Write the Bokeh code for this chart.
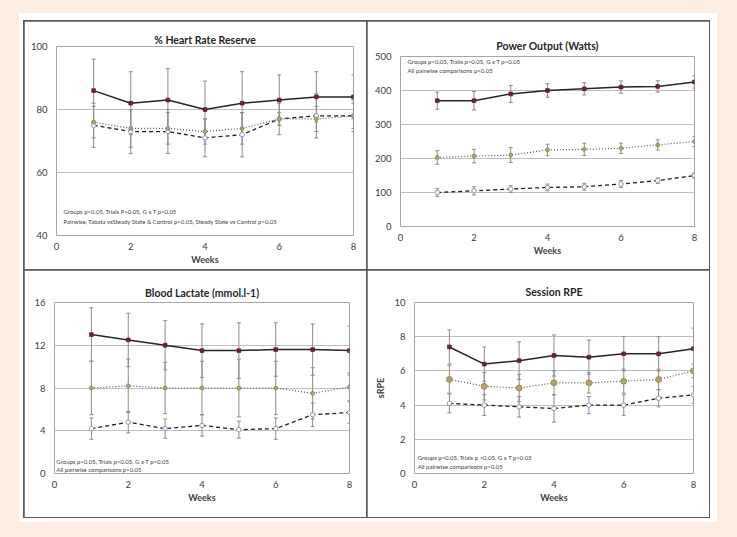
from bokeh.plotting import figure
from bokeh.models import Range1d, FixedTicker, GridBox, Column, Label, ColumnDataSource
from bokeh.embed import file_html
from bokeh.resources import INLINE

weeks = [1, 2, 3, 4, 5, 6, 7, 8]
x_ticks = [0, 2, 4, 6, 8]

# % Heart Rate Reserve
hrr_ticks = [40, 60, 80, 100]
hrr_tabata = [86, 82, 83, 80, 82, 83, 84, 84]
hrr_tabata_sd = [10, 10, 10, 9, 10, 8, 8, 7]
hrr_steady = [76, 74, 74, 73, 74, 77, 77, 78]
hrr_steady_sd = [5, 6, 5, 4, 5, 2, 4, 4]
hrr_control = [75, 73, 73, 71, 72, 77, 78, 78]
hrr_control_sd = [7, 7, 7, 6, 7, 5, 7, 5]
hrr_notes = ["Groups p<0.05, Trials P>0.05, G x T p>0.05",
             "Pairwise, Tabata vsSteady State & Control p<0.05, Steady State vs Control p>0.05"]

# Power Output (Watts)
pow_ticks = [0, 100, 200, 300, 400, 500]
pow_tabata = [370, 370, 390, 400, 405, 410, 412, 425]
pow_tabata_sd = [25, 27, 25, 20, 18, 18, 17, 18]
pow_steady = [203, 207, 210, 225, 227, 230, 240, 250]
pow_steady_sd = [20, 20, 22, 17, 18, 15, 15, 15]
pow_control = [100, 105, 110, 115, 117, 125, 135, 150]
pow_control_sd = [12, 12, 10, 10, 10, 10, 8, 8]
pow_notes = ["Groups p<0.05, Trails p<0.05, G x T p>0.05",
             "All pairwise comparisons p<0.05"]

# Blood Lactate (mmol.l-1)
bl_ticks = [0, 4, 8, 12, 16]
bl_tabata = [13.0, 12.5, 12.0, 11.5, 11.5, 11.6, 11.6, 11.5]
bl_tabata_sd = [2.5, 2.5, 2.3, 2.5, 2.6, 2.5, 2.4, 2.3]
bl_steady = [8.0, 8.2, 8.0, 8.0, 8.0, 8.0, 7.5, 8.1]
bl_steady_sd = [2.5, 2.5, 2.4, 2.5, 2.7, 2.5, 2.4, 1.3]
bl_control = [4.2, 4.8, 4.2, 4.5, 4.1, 4.2, 5.5, 5.7]
bl_control_sd = [1.0, 1.0, 0.9, 1.0, 0.8, 1.0, 1.1, 1.0]
bl_notes = ["Groups p<0.05, Trials p>0.05, G x T p>0.05",
            "All pairwise comparisons p<0.05"]

# Session RPE
rpe_ticks = [0, 2, 4, 6, 8, 10]
rpe_tabata = [7.4, 6.4, 6.6, 6.9, 6.8, 7.0, 7.0, 7.3]
rpe_tabata_sd = [1.0, 1.0, 1.1, 1.2, 1.0, 1.0, 1.0, 1.2]
rpe_steady = [5.5, 5.1, 5.0, 5.3, 5.3, 5.4, 5.5, 6.0]
rpe_steady_sd = [0.8, 0.8, 0.8, 0.7, 0.6, 0.7, 0.6, 0.4]
rpe_control = [4.1, 4.0, 3.9, 3.8, 4.0, 4.0, 4.4, 4.6]
rpe_control_sd = [0.55, 0.6, 0.6, 0.8, 0.5, 0.6, 0.5, 0.5]
rpe_notes = ["Groups p<0.05, Trials p >0.05, G x T p>0.05",
             "All pairwise comparisons p<0.05"]

FONT = "Lato"
ERR = "#8c8c8c"
TXT = "#404040"


def panel(title, w, h, yr, yticks, borders, series, notes, note_pos,
          title_off, title_standoff, ylabel=None, steady_size=4):
    p = figure(width=w, height=h, x_range=Range1d(0, 8), y_range=Range1d(*yr),
               output_backend="svg", toolbar_location=None, title=title,
               min_border_left=borders[0], min_border_right=borders[1],
               min_border_top=borders[2], min_border_bottom=borders[3])
    p.background_fill_color = "white"
    p.border_fill_color = "white"
    p.outline_line_color = "#a6a6a6"
    p.outline_line_width = 1
    p.xgrid.visible = False
    p.ygrid.grid_line_color = "#bfbfbf"
    p.ygrid.grid_line_width = 1
    p.xaxis.ticker = FixedTicker(ticks=x_ticks)
    p.yaxis.ticker = FixedTicker(ticks=yticks)
    for ax in (p.xaxis[0], p.yaxis[0]):
        ax.axis_line_color = None
        ax.major_tick_line_color = None
        ax.minor_tick_line_color = None
        ax.major_tick_out = 0
        ax.major_tick_in = 0
        ax.major_label_text_font = FONT
        ax.major_label_text_font_size = "9.5px"
        ax.major_label_text_color = TXT
        ax.axis_label_text_font = FONT
        ax.axis_label_text_font_size = "9px"
        ax.axis_label_text_font_style = "bold"
        ax.axis_label_text_color = TXT
    p.xaxis.major_label_standoff = 7
    p.yaxis.major_label_standoff = 9
    p.xaxis.axis_label = "Weeks"
    p.xaxis.axis_label_standoff = 1
    if ylabel:
        p.yaxis.axis_label = ylabel
        p.yaxis.axis_label_standoff = 5

    p.title.align = "center"
    p.title.text_font = FONT
    p.title.text_font_size = "10.5px"
    p.title.text_font_style = "bold"
    p.title.text_color = "#262626"
    p.title.offset = title_off
    p.title.standoff = title_standoff

    (tab, tab_sd), (st, st_sd), (ct, ct_sd) = series
    p.line(weeks, ct, line_color="#1f1f1f", line_width=1.3, line_dash="4 3")
    p.line(weeks, st, line_color="#555555", line_width=1.2, line_dash="1 2")
    p.line(weeks, tab, line_color="#262626", line_width=1.5)
    for vals, sds in ((ct, ct_sd), (st, st_sd), (tab, tab_sd)):
        lo = [v - s for v, s in zip(vals, sds)]
        hi = [v + s for v, s in zip(vals, sds)]
        src = ColumnDataSource(dict(x=weeks, lo=lo, hi=hi))
        p.segment(x0="x", y0="lo", x1="x", y1="hi", source=src, line_color=ERR, line_width=1)
        p.scatter("x", "lo", source=src, marker="dash", size=4, line_color=ERR, line_width=1)
        p.scatter("x", "hi", source=src, marker="dash", size=4, line_color=ERR, line_width=1)
    p.scatter(weeks, ct, marker="circle", size=4.5, fill_color="white",
              line_color="#8496bd", line_width=1)
    p.scatter(weeks, st, marker="circle", size=steady_size, fill_color="#b3a46a",
              line_color="#8f8450", line_width=0.8)
    p.scatter(weeks, tab, marker="square", size=3.8, fill_color="#6e2433",
              line_color="#4a1420", line_width=0.6)

    for txt, (nx, ny) in zip(notes, note_pos):
        p.add_layout(Label(x=nx, y=ny, text=txt, text_font=FONT, text_font_size="6px",
                           text_color=TXT, text_baseline="middle"))
    return p


p1 = panel("% Heart Rate Reserve", 342, 248, (40, 100), hrr_ticks, (32, 13, 25, 34),
           [(hrr_tabata, hrr_tabata_sd), (hrr_steady, hrr_steady_sd), (hrr_control, hrr_control_sd)],
           hrr_notes, [(0.19, 47.6), (0.19, 44.5)], -9, 2)
p2 = panel("Power Output (Watts)", 342, 248, (0, 500), pow_ticks, (33, 15, 35, 43),
           [(pow_tabata, pow_tabata_sd), (pow_steady, pow_steady_sd), (pow_control, pow_control_sd)],
           pow_notes, [(0.19, 485), (0.19, 459)], 5, 9)
p3 = panel("Blood Lactate (mmol.l-1)", 342, 247, (0, 16), bl_ticks, (30, 17, 32, 44),
           [(bl_tabata, bl_tabata_sd), (bl_steady, bl_steady_sd), (bl_control, bl_control_sd)],
           bl_notes, [(0.05, 1.12), (0.05, 0.38)], -4, 8)
p4 = panel("Session RPE", 342, 247, (0, 10), rpe_ticks, (47, 16, 32, 44),
           [(rpe_tabata, rpe_tabata_sd), (rpe_steady, rpe_steady_sd), (rpe_control, rpe_control_sd)],
           rpe_notes, [(0.09, 0.94), (0.09, 0.41)], -15, 10, ylabel="sRPE", steady_size=6)

cells = [Column(children=[p]) for p in (p1, p2, p3, p4)]
grid = GridBox(children=[(cells[0], 0, 0), (cells[1], 0, 1), (cells[2], 1, 0), (cells[3], 1, 1)],
               spacing=1, margin=(21, 0, 0, 24),
               styles={"background-color": "#5a5a5a",
                       "box-shadow": "0 0 0 1px #5a5a5a, 1.5px -1.5px 0 6.5px #ffffff"})

html = file_html(grid, INLINE)
html = html.replace("</head>", "<style>html, body { background-color: #fdede3; }</style></head>", 1)
open("out.html", "w").write(html)
